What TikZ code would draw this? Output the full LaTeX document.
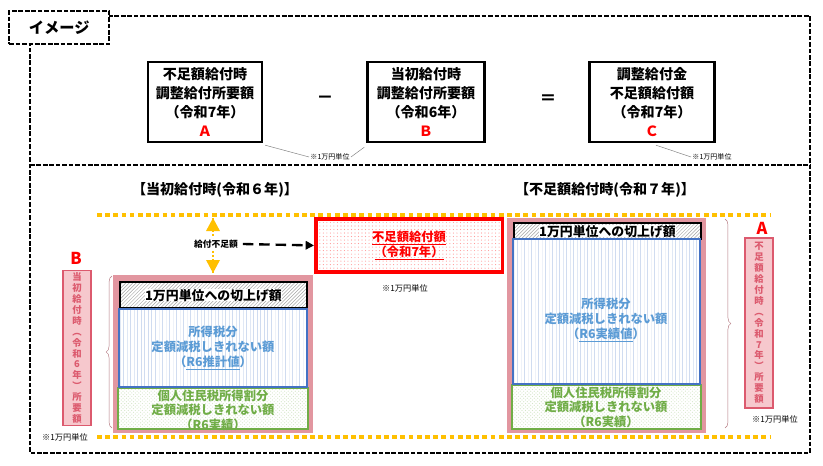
\documentclass[tikz,border=0pt]{standalone}
\usepackage{fontspec}
\setmainfont{Noto Sans CJK JP}
\usepackage{tikz}
\usetikzlibrary{calc}
\usetikzlibrary{patterns}
\usetikzlibrary{arrows, arrows.meta}
\usetikzlibrary{decorations.pathreplacing}

\definecolor{frameblue}{RGB}{68,114,196}
\definecolor{textblue}{RGB}{91,155,213}
\definecolor{framegreen}{RGB}{112,173,71}
\definecolor{pinkframe}{RGB}{226,150,160}
\definecolor{pinkfill}{RGB}{246,200,205}
\definecolor{pinktext}{RGB}{220,90,110}
\definecolor{gold}{RGB}{255,192,0}

\begin{document}
\begin{tikzpicture}[x=0.03cm, y=-0.03cm]

\tikzset{%
termbox/.style={draw, line width=2pt, minimum width=#1, minimum height=2.4cm, align=center, inner sep=0, font=\fontsize{12}{16}\selectfont\bfseries},
notetext/.style={font=\fontsize{6}{7}\selectfont, inner sep=1pt},
yellowline/.style={gold, line width=3pt, dash pattern=on 4pt off 3pt},
vtext/.style={font=\fontsize{8}{9.3}\selectfont\bfseries, align=center, text=pinktext, inner sep=0},
stacktext/.style={font=\fontsize{10.5}{12.5}\selectfont\bfseries, align=center}%
}

\useasboundingbox (0,0) rectangle (823,465);
\fill [white] (0,0) rectangle (823,465);

% frames
\draw [line width=1.5pt, dash pattern=on 4pt off 1.5pt] (108,16) -- (810,16) -- (810,453) -- (30,453) -- (30,43);
\draw [line width=1.5pt, dash pattern=on 4pt off 1.5pt] (30,165) -- (810,165);
\node [draw, line width=2pt, dash pattern=on 4pt off 1.5pt, fill=white, minimum width=3cm, minimum height=0.99cm, font=\fontsize{13}{15}\selectfont\bfseries, anchor=north west] (tab) at (8,10) {イメージ};

% upper terms
\node [termbox=3.42cm] (termA) at (205,102) {不足額給付時\\調整給付所要額\\（令和7年）\\{\color{red}Ａ}};
\node [termbox=3.51cm] (termB) at (426,102) {当初給付時\\調整給付所要額\\（令和6年）\\{\color{red}Ｂ}};
\node [termbox=3.75cm] (termC) at (652,102) {調整給付金\\不足額給付額\\（令和7年）\\{\color{red}Ｃ}};
\node [font=\Large\bfseries] (minus) at (325,100) {－};
\node [font=\Large\bfseries] (equal) at (548,100) {＝};

\node [notetext] (noteAB) at (330,157) {※1万円単位};
\node [notetext] (noteC) at (712,157) {※1万円単位};
\draw [gray, thin] (termA.south east) ++(2,2) -- (noteAB.west);
\draw [gray, thin] (termB.south west) ++(-2,4) -- (noteAB.east);
\draw [gray, thin] (termC.south) ++(4,2) -- (noteC.west);

% headings
\node [font=\fontsize{12}{14}\selectfont\bfseries] (headB) at (215,190) {【当初給付時(令和６年)】};
\node [font=\fontsize{12}{14}\selectfont\bfseries] (headA) at (605,190) {【不足額給付時(令和７年)】};

% yellow guide lines
\draw [yellowline] (97,215) -- (770,215);
\draw [yellowline] (97,437) -- (770,437);

% shortfall box
\fill [white] (314,217) rectangle (503,270);
\node [draw=red, line width=3pt, pattern=dots, pattern color=red!40, minimum width=5.6cm, minimum height=1.6cm, anchor=north west, inner sep=0] (short) at (314,217) {};
\node [red, stacktext] (shorttext) at (short.center) {\underline{不足額給付額}\\\underline{（令和7年）}};
\node [notetext, font=\fontsize{7}{8}\selectfont] (noteshort) at (405,288) {※1万円単位};

\coordinate (gapt) at (213,218);
\coordinate (gapb) at (213,273);
\draw [gold, line width=1.5pt, dotted] (gapt) -- (gapb);
\fill [gold] (gapt) -- ++(-7,13) -- ++(14,0) -- cycle;
\fill [gold] (gapb) -- ++(-7,-13) -- ++(14,0) -- cycle;
\node [font=\fontsize{7.5}{8}\selectfont\bfseries, fill=white, inner sep=0.5pt] (gaptext) at (216,244) {給付不足額};
\draw [line width=2pt, dash pattern=on 9pt off 5pt, -{Triangle[length=2.5mm, width=2.5mm]}] (gaptext.east) ++(4,0) -- (short.west);

% left stack
\fill [pinkframe] (113,275) rectangle (313,433);
\fill [white] (118,388) rectangle (308,429);
\fill [pattern=crosshatch dots, pattern color=framegreen!30] (118,388) rectangle (308,429);
\draw [framegreen, line width=1.5pt] (118,388) rectangle (308,429);
\fill [white] (119,281) rectangle (307,307);
\node [draw=black, line width=2pt, pattern=north east lines, pattern color=gray!70, minimum width=5.6cm, minimum height=0.78cm, anchor=north west, inner sep=0] (roundB) at (119,281) {};
\node [font=\fontsize{11}{13}\selectfont\bfseries, fill=white, inner sep=0] at (roundB.center) {1万円単位への切上げ額};
\fill [white] (119,309) rectangle (307,387);
\fill [pattern=vertical lines, pattern color=frameblue!25] (119,309) rectangle (307,387);
\draw [frameblue, line width=1.5pt] (119,309) rectangle (307,387);
\node [textblue, stacktext] (taxB) at (213,348) {所得税分\\定額減税しきれない額\\（\underline{R6推計値}）};
\node [framegreen, stacktext] (resB) at (213,410) {個人住民税所得割分\\定額減税しきれない額\\（R6実績）};

% right stack
\fill [pinkframe] (507,218) rectangle (706,433);
\fill [white] (512,385) rectangle (701,429);
\fill [pattern=crosshatch dots, pattern color=framegreen!30] (512,385) rectangle (701,429);
\draw [framegreen, line width=1.5pt] (512,385) rectangle (701,429);
\fill [white] (513,222) rectangle (700,238);
\node [draw=black, line width=2pt, pattern=north east lines, pattern color=gray!70, minimum width=5.6cm, minimum height=0.48cm, anchor=north west, inner sep=0] (roundA) at (513,222) {};
\node [font=\fontsize{11}{13}\selectfont\bfseries, fill=white, inner sep=0] at (roundA.center) {1万円単位への切上げ額};
\fill [white] (513,239) rectangle (700,384);
\fill [pattern=vertical lines, pattern color=frameblue!25] (513,239) rectangle (700,384);
\draw [frameblue, line width=1.5pt] (513,239) rectangle (700,384);
\node [textblue, stacktext] (taxA) at (606,320) {所得税分\\定額減税しきれない額\\（\underline{R6実績値}）};
\node [framegreen, stacktext] (resA) at (606,407) {個人住民税所得割分\\定額減税しきれない額\\（R6実績）};

% side labels
\node [red, font=\fontsize{14}{16}\selectfont\bfseries] (labelB) at (76,258) {B};
\node [draw=pinktext, line width=1.5pt, fill=pinkfill, minimum width=0.84cm, minimum height=4.65cm, vtext] (sideB) at (77,348) {当\\初\\給\\付\\時\\︵\\令\\和\\6\\年\\︶\\所\\要\\額};
\draw [pinkframe!80!black, decorate, decoration={brace, amplitude=5pt}] (112,428) -- (112,276);
\node [notetext, font=\fontsize{7}{8}\selectfont] (noteB) at (65,437) {※1万円単位};

\node [red, font=\fontsize{14}{16}\selectfont\bfseries] (labelA) at (762,228) {A};
\node [draw=pinktext, line width=1.5pt, fill=pinkfill, minimum width=0.84cm, minimum height=5.1cm, vtext] (sideA) at (759,323) {不\\足\\額\\給\\付\\時\\︵\\令\\和\\7\\年\\︶\\所\\要\\額};
\draw [pinkframe!80!black, decorate, decoration={brace, amplitude=5pt}] (725,219) -- (725,428);
\node [notetext, font=\fontsize{7}{8}\selectfont] (noteA) at (775,419) {※1万円単位};

\end{tikzpicture}
\end{document}
